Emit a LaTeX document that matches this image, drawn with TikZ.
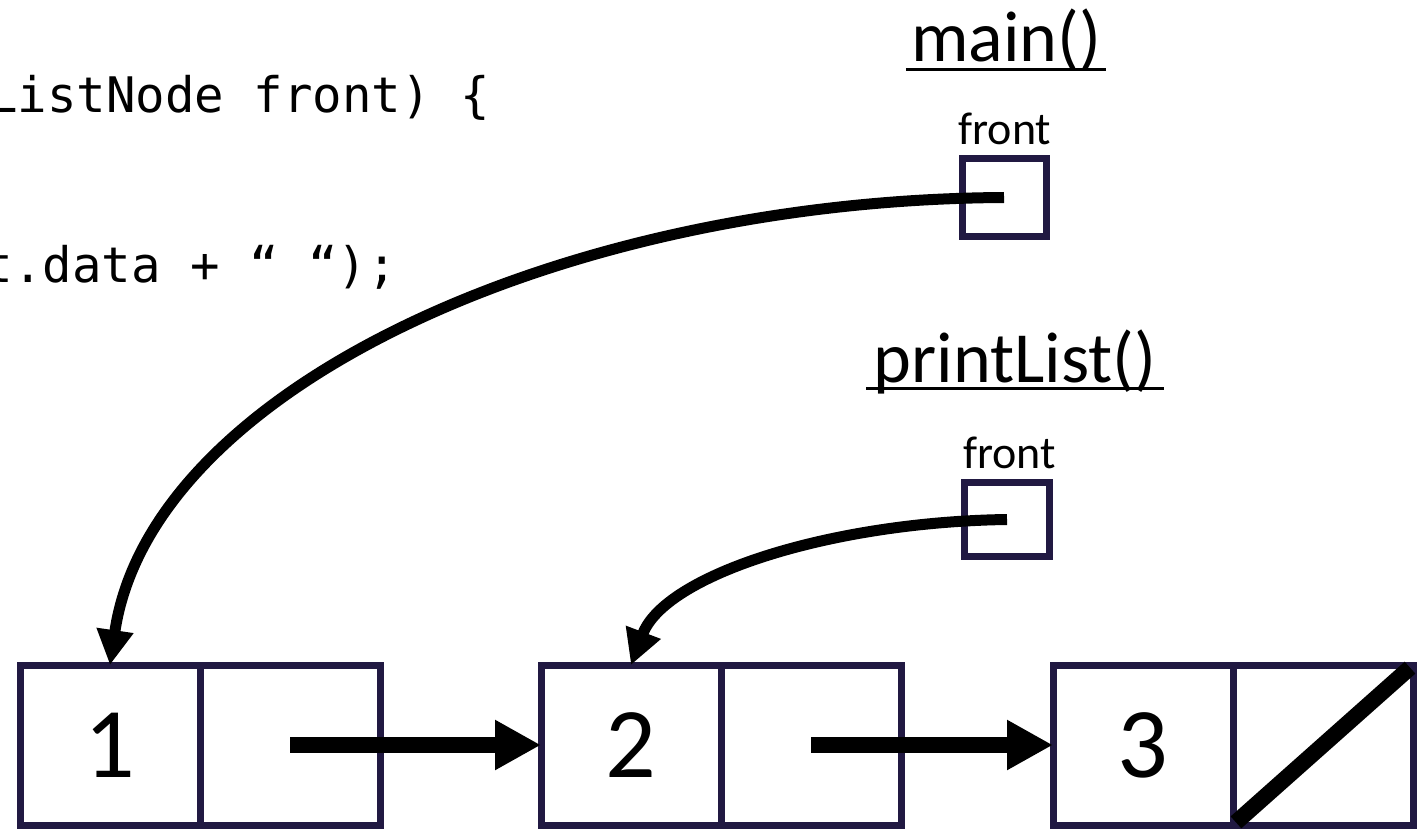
\documentclass[tikz,border=0pt]{standalone}
\usepackage{fontspec}
\setmainfont{Carlito}
\newfontfamily\codefont{DejaVu Sans Mono}
\usetikzlibrary{arrows.meta}
\definecolor{boxnavy}{RGB}{33,25,66}
\tikzset{
  cell/.style={draw=boxnavy, line width=7pt, minimum width=180pt, minimum height=160pt, inner sep=0pt, outer sep=0pt, font=\fontsize{100}{110}\selectfont},
  varbox/.style={draw=boxnavy, line width=7pt, inner sep=0pt, outer sep=0pt},
  ptr/.style={line width=16pt, -{Triangle[length=46pt, width=47pt]}},
  cptr/.style={line width=11pt, -{Triangle[length=35pt, width=35pt]}},
  nullbar/.style={line width=16pt, shorten <=4pt, shorten >=4pt},
  codetxt/.style={inner sep=0pt, anchor=base east, font=\codefont\fontsize{49}{55}\selectfont},
  frametitle/.style={inner sep=0pt, anchor=base, font=\fontsize{72}{80}\selectfont},
  varlbl/.style={inner sep=0pt, anchor=base, font=\fontsize{46}{52}\selectfont},
  uline/.style={line width=3pt}
}
\begin{document}
\begin{tikzpicture}[x=1pt, y=-1pt]
\useasboundingbox (0,0) rectangle (1427,829);
\clip (0,0) rectangle (1427,829);
% code fragments
\node[codetxt] (code1) at (490,113) {ListNode front) \{};
\node[codetxt] (code2) at (397,282) {t.data + “ “);};
% frame titles
\node[frametitle] (mainlbl) at (1006,62) {main()};
\draw[uline] ([xshift=-5pt,yshift=-8pt]mainlbl.base west) -- ([xshift=5pt,yshift=-8pt]mainlbl.base east);
\node[frametitle] (pllbl) at (1015,382) {printList()};
\draw[uline] ([xshift=-7pt,yshift=-6pt]pllbl.base west) -- ([xshift=7pt,yshift=-6pt]pllbl.base east);
% variables
\node[varlbl] (mfl) at (1005,145) {front};
\node[varbox, minimum width=84pt, minimum height=78pt] (mf) at (1004,197.5) {};
\node[varlbl] (pfl) at (1009.5,468) {front};
\node[varbox, minimum width=85pt, minimum height=74pt] (pf) at (1007,519.5) {};
% list nodes
\node[cell] (n1a) at (110,745) {1};
\node[cell] (n1b) at (290,745) {};
\node[cell] (n2a) at (631,745) {2};
\node[cell] (n2b) at (811,745) {};
\node[cell] (n3a) at (1143,745) {3};
\node[cell] (n3b) at (1323,745) {};
% pointers
\draw[ptr] (n1b.center) -- (n2a.west);
\draw[ptr] (n2b.center) -- (n3a.west);
\draw[nullbar] (n3b.south west) -- (n3b.north east);
\draw[cptr] (mf.center) .. controls (560,200) and (150,390) .. (n1a.north);
\draw[cptr] (pf.center) .. controls (830,522) and (665,575) .. (n2a.north);
\end{tikzpicture}
\end{document}
